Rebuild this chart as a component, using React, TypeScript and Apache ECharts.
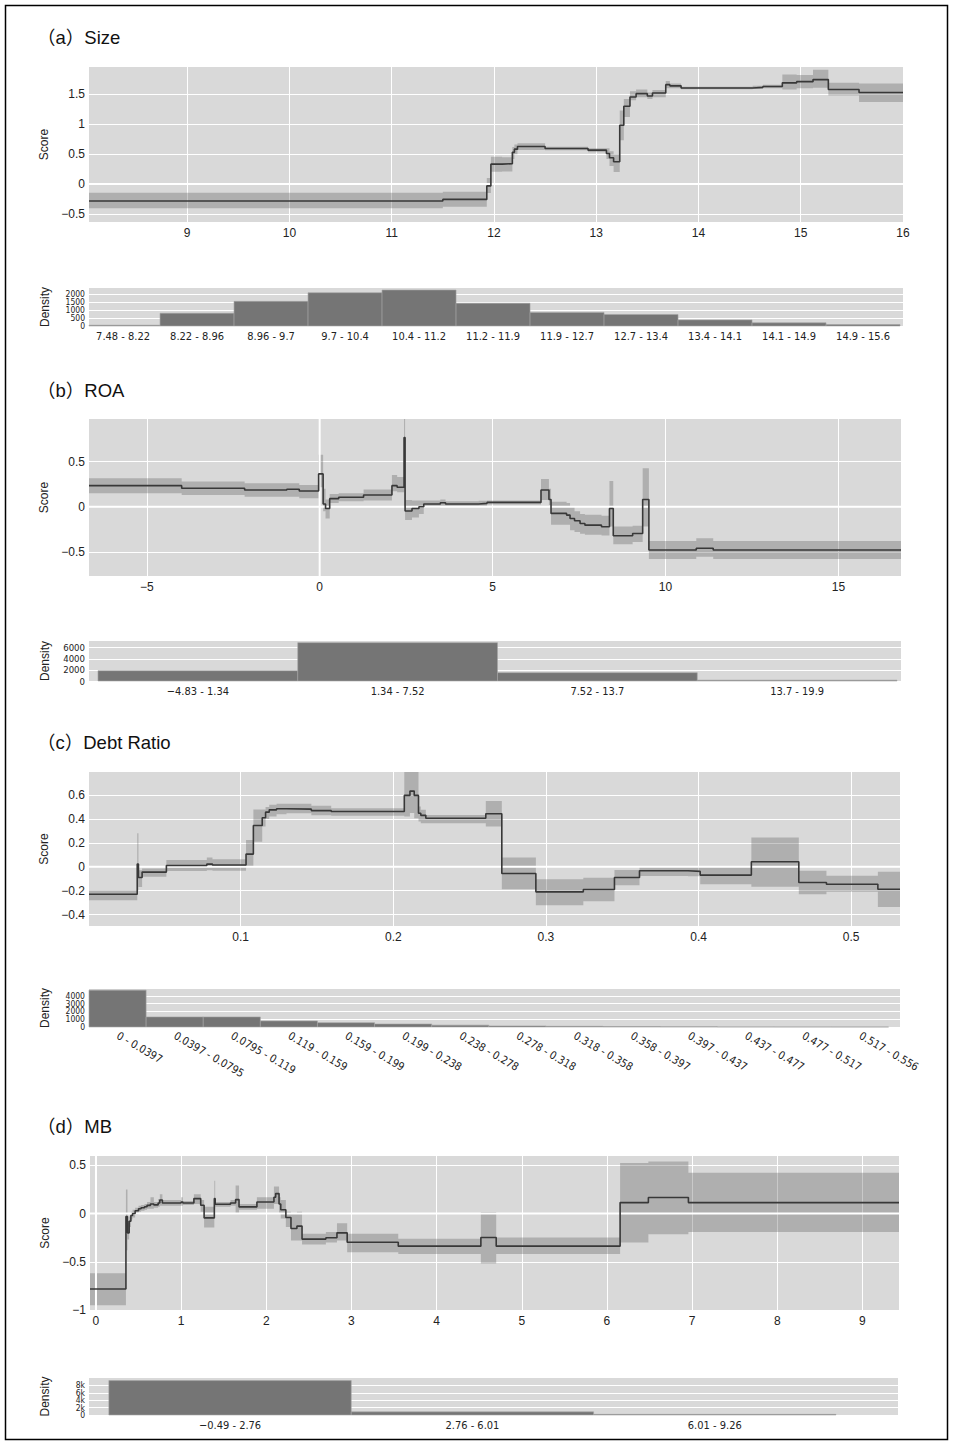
import React, { useEffect, useRef } from "react";
import * as echarts from "echarts";

// ---------- (a) Size ----------
const sizeX = [8.04, 11.5, 11.93, 11.97, 12.08, 12.18, 12.2, 12.23, 12.5, 12.92, 13.1, 13.13, 13.17, 13.23, 13.27, 13.33, 13.39, 13.5, 13.55, 13.68, 13.72, 13.83, 14.53, 14.63, 14.82, 14.96, 15.12, 15.27, 15.57];
const sizeY = [-0.283, -0.256, -0.03, 0.333, 0.34, 0.53, 0.583, 0.628, 0.595, 0.567, 0.51, 0.44, 0.373, 0.983, 1.3, 1.455, 1.51, 1.47, 1.52, 1.66, 1.64, 1.605, 1.615, 1.63, 1.69, 1.71, 1.745, 1.58, 1.53];
const sizeLo = [-0.405, -0.378, -0.15, 0.205, 0.21, 0.42, 0.5, 0.57, 0.565, 0.53, 0.42, 0.3, 0.2, 0.73, 1.12, 1.4, 1.45, 1.42, 1.45, 1.6, 1.6, 1.585, 1.59, 1.6, 1.58, 1.6, 1.61, 1.48, 1.37];
const sizeHi = [-0.145, -0.128, 0.1, 0.455, 0.45, 0.62, 0.66, 0.68, 0.625, 0.6, 0.6, 0.55, 0.5, 1.23, 1.42, 1.55, 1.58, 1.53, 1.57, 1.72, 1.68, 1.625, 1.64, 1.66, 1.83, 1.82, 1.91, 1.69, 1.68];
const sizeXTicks = [9, 10, 11, 12, 13, 14, 15, 16];
const sizeYTicks = [-0.5, 0, 0.5, 1, 1.5];
const sizeBins = ["7.48 - 8.22", "8.22 - 8.96", "8.96 - 9.7", "9.7 - 10.4", "10.4 - 11.2", "11.2 - 11.9", "11.9 - 12.7", "12.7 - 13.4", "13.4 - 14.1", "14.1 - 14.9", "14.9 - 15.6"];
const sizeCounts = [50, 800, 1540, 2080, 2250, 1420, 850, 720, 380, 200, 90];
const sizeDensTicks = [0, 500, 1000, 1500, 2000];

// ---------- (b) ROA ----------
const roaX = [-6.67, -3.99, -2.17, -0.95, -0.59, -0.03, 0.1, 0.17, 0.29, 0.55, 1.27, 2.09, 2.24, 2.44, 2.47, 2.67, 2.87, 3.01, 3.49, 3.64, 4.6, 4.84, 6.4, 6.63, 6.69, 7.14, 7.24, 7.37, 7.53, 7.67, 8.15, 8.38, 8.49, 9.05, 9.34, 9.52, 10.89, 11.38];
const roaY = [0.233, 0.204, 0.185, 0.193, 0.174, 0.363, 0.03, -0.02, 0.089, 0.104, 0.13, 0.233, 0.215, 0.767, -0.048, -0.02, 0.0, 0.03, 0.044, 0.03, 0.037, 0.048, 0.185, 0.08, -0.074, -0.093, -0.13, -0.155, -0.185, -0.204, -0.222, -0.019, -0.322, -0.296, 0.08, -0.48, -0.46, -0.48];
const roaLo = [0.148, 0.13, 0.11, 0.11, 0.093, 0.215, -0.05, -0.13, 0.04, 0.06, 0.07, 0.17, 0.16, 0.0, -0.148, -0.12, -0.08, -0.01, 0.01, 0.0, 0.01, 0.025, 0.074, 0.02, -0.2, -0.2, -0.26, -0.28, -0.3, -0.31, -0.32, -0.22, -0.415, -0.39, -0.22, -0.58, -0.555, -0.58];
const roaHi = [0.315, 0.278, 0.26, 0.26, 0.24, 0.574, 0.2, 0.08, 0.14, 0.15, 0.19, 0.35, 0.33, 0.98, 0.074, 0.07, 0.07, 0.07, 0.08, 0.06, 0.065, 0.07, 0.307, 0.2, 0.055, 0.04, 0.0, -0.05, -0.08, -0.09, -0.1, 0.285, -0.22, -0.21, 0.426, -0.38, -0.35, -0.38];
const roaXTicks = [-5, 0, 5, 10, 15];
const roaYTicks = [-0.5, 0, 0.5];
const roaBins = ["\u22124.83 - 1.34", "1.34 - 7.52", "7.52 - 13.7", "13.7 - 19.9"];
const roaCounts = [1850, 6900, 1500, 150];
const roaDensTicks = [0, 2000, 4000, 6000];

// ---------- (c) Debt Ratio ----------
const debtX = [0.0006, 0.0322, 0.033, 0.0354, 0.0513, 0.0778, 0.0815, 0.1035, 0.1083, 0.1141, 0.1163, 0.1187, 0.1235, 0.13, 0.1463, 0.1593, 0.2072, 0.2109, 0.2137, 0.2165, 0.218, 0.2213, 0.2606, 0.2711, 0.2934, 0.3245, 0.3449, 0.3613, 0.3931, 0.4011, 0.4346, 0.4657, 0.4838, 0.5175];
const debtY = [-0.23, 0.022, -0.09, -0.045, 0.011, 0.022, 0.014, 0.106, 0.345, 0.41, 0.457, 0.476, 0.485, 0.482, 0.47, 0.462, 0.597, 0.633, 0.597, 0.448, 0.43, 0.406, 0.443, -0.056, -0.21, -0.19, -0.09, -0.034, -0.039, -0.07, 0.042, -0.132, -0.146, -0.188];
const debtLo = [-0.28, -0.2, -0.17, -0.084, -0.036, -0.03, -0.034, 0.0, 0.21, 0.336, 0.4, 0.42, 0.44, 0.448, 0.43, 0.426, 0.42, 0.45, 0.406, 0.378, 0.364, 0.364, 0.336, -0.188, -0.322, -0.289, -0.154, -0.078, -0.08, -0.146, -0.168, -0.23, -0.21, -0.336];
const debtHi = [-0.196, 0.28, -0.03, -0.014, 0.056, 0.078, 0.062, 0.224, 0.48, 0.48, 0.5, 0.518, 0.527, 0.527, 0.51, 0.49, 0.8, 0.8, 0.8, 0.504, 0.476, 0.434, 0.55, 0.078, -0.104, -0.092, -0.028, 0.006, 0.0, 0.0, 0.244, -0.034, -0.076, -0.042];
const debtXTicks = [0.1, 0.2, 0.3, 0.4, 0.5];
const debtYTicks = [-0.4, -0.2, 0, 0.2, 0.4, 0.6];
const debtBins = ["0 - 0.0397", "0.0397 - 0.0795", "0.0795 - 0.119", "0.119 - 0.159", "0.159 - 0.199", "0.199 - 0.238", "0.238 - 0.278", "0.278 - 0.318", "0.318 - 0.358", "0.358 - 0.397", "0.397 - 0.437", "0.437 - 0.477", "0.477 - 0.517", "0.517 - 0.556"];
const debtCounts = [4750, 1300, 1300, 780, 560, 390, 240, 140, 90, 50, 40, 15, 10, 5];
const debtDensTicks = [0, 1000, 2000, 3000, 4000];

// ---------- (d) MB ----------
const mbX = [-0.07, 0.352, 0.37, 0.39, 0.41, 0.43, 0.46, 0.5, 0.53, 0.57, 0.6, 0.64, 0.68, 0.73, 0.75, 0.78, 1.0, 1.02, 1.15, 1.23, 1.27, 1.39, 1.4, 1.58, 1.64, 1.68, 1.89, 2.09, 2.11, 2.15, 2.17, 2.23, 2.29, 2.36, 2.42, 2.7, 2.83, 2.95, 3.55, 4.52, 4.7, 6.155, 6.487, 6.957];
const mbY = [-0.783, -0.03, -0.2, -0.08, -0.02, 0.0, 0.03, 0.05, 0.06, 0.07, 0.085, 0.1, 0.09, 0.11, 0.14, 0.11, 0.12, 0.11, 0.155, 0.086, -0.045, 0.155, 0.097, 0.11, 0.145, 0.069, 0.12, 0.17, 0.207, 0.1, 0.04, -0.04, -0.155, -0.13, -0.265, -0.25, -0.2, -0.297, -0.338, -0.248, -0.338, 0.114, 0.166, 0.114];
const mbLo = [-0.95, -0.38, -0.27, -0.14, -0.06, -0.04, -0.01, 0.02, 0.03, 0.04, 0.05, 0.05, 0.06, 0.07, 0.08, 0.08, 0.08, 0.09, 0.1, 0.02, -0.145, 0.05, 0.07, 0.08, 0.0, 0.04, 0.05, 0.1, 0.1, 0.0, -0.05, -0.14, -0.28, -0.28, -0.32, -0.3, -0.28, -0.4, -0.42, -0.517, -0.42, -0.3, -0.214, -0.19];
const mbHi = [-0.62, 0.25, -0.1, -0.03, 0.02, 0.04, 0.06, 0.08, 0.09, 0.1, 0.12, 0.17, 0.12, 0.15, 0.2, 0.14, 0.17, 0.13, 0.2, 0.14, 0.07, 0.34, 0.12, 0.14, 0.29, 0.1, 0.17, 0.28, 0.28, 0.17, 0.14, 0.02, 0.0, 0.02, -0.21, -0.19, -0.1, -0.21, -0.26, 0.017, -0.248, 0.524, 0.54, 0.424];
const mbXTicks = [0, 1, 2, 3, 4, 5, 6, 7, 8, 9];
const mbYTicks = [-1, -0.5, 0, 0.5];
const mbBins = ["\u22120.49 - 2.76", "2.76 - 6.01", "6.01 - 9.26"];
const mbCounts = [9300, 850, 170];
const mbDensTicks = [0, 2000, 4000, 6000, 8000];

// ---------- styling ----------
const BG = "#d9d9d9";
const BAND = "rgba(90,90,90,0.33)";
const LINE = "#383838";
const BAR = "#757575";
const TXT = "#222";
const FONT = "'Liberation Sans', Arial, 'Noto Sans CJK SC', sans-serif";
const NARROW = "'Liberation Sans Narrow', 'DejaVu Sans Condensed', 'Liberation Sans', sans-serif";

function fmt(v: number): string {
  const s = String(+v.toFixed(4));
  return v < 0 ? "\u2212" + s.slice(1) : s;
}

function steps(xs: number[], ys: number[], end: number) {
  const pts = xs.map((x, i) => [x, ys[i]]);
  pts.push([end, ys[ys.length - 1]]);
  return pts;
}

type Box = { left: number; top: number; width: number; height: number };
type ScoreCfg = {
  xs: number[]; ys: number[]; lo: number[]; hi: number[];
  xMin: number; xMax: number; yMin: number; yMax: number;
  xTicks: number[]; yTicks: number[]; zeroX: boolean; grid: Box;
};
type DensCfg = {
  bins: string[]; counts: number[]; ticks: number[];
  xMin: number; xMax: number; yMax: number; rotate: number; labelSize: number;
  yFmt: (v: number) => string; grid: Box;
};

const scorePanels: ScoreCfg[] = [
  { xs: sizeX, ys: sizeY, lo: sizeLo, hi: sizeHi, xMin: 8.04, xMax: 16, yMin: -0.633, yMax: 1.955, xTicks: sizeXTicks, yTicks: sizeYTicks, zeroX: false, grid: { left: 89, top: 67, width: 814, height: 155 } },
  { xs: roaX, ys: roaY, lo: roaLo, hi: roaHi, xMin: -6.67, xMax: 16.81, yMin: -0.767, yMax: 0.971, xTicks: roaXTicks, yTicks: roaYTicks, zeroX: true, grid: { left: 89, top: 419, width: 812, height: 157 } },
  { xs: debtX, ys: debtY, lo: debtLo, hi: debtHi, xMin: 0.0006, xMax: 0.532, yMin: -0.496, yMax: 0.793, xTicks: debtXTicks, yTicks: debtYTicks, zeroX: false, grid: { left: 89, top: 772, width: 811, height: 154 } },
  { xs: mbX, ys: mbY, lo: mbLo, hi: mbHi, xMin: -0.07, xMax: 9.43, yMin: -1, yMax: 0.597, xTicks: mbXTicks, yTicks: mbYTicks, zeroX: true, grid: { left: 90, top: 1156, width: 809, height: 154 } },
];

const densPanels: DensCfg[] = [
  { bins: sizeBins, counts: sizeCounts, ticks: sizeDensTicks, xMin: 0.04, xMax: 11.04, yMax: 2375, rotate: 0, labelSize: 8.5, yFmt: (v) => String(v), grid: { left: 89, top: 288, width: 814, height: 38 } },
  { bins: roaBins, counts: roaCounts, ticks: roaDensTicks, xMin: -0.045, xMax: 4.02, yMax: 7200, rotate: 0, labelSize: 9.5, yFmt: (v) => String(v), grid: { left: 89, top: 641, width: 812, height: 40 } },
  { bins: debtBins, counts: debtCounts, ticks: debtDensTicks, xMin: 0, xMax: 14.2, yMax: 4900, rotate: -30, labelSize: 8.5, yFmt: (v) => String(v), grid: { left: 89, top: 989, width: 811, height: 38 } },
  { bins: mbBins, counts: mbCounts, ticks: mbDensTicks, xMin: -0.082, xMax: 3.256, yMax: 10000, rotate: 0, labelSize: 8.5, yFmt: (v) => (v === 0 ? "0" : v / 1000 + "k"), grid: { left: 89, top: 1378, width: 809, height: 37 } },
];

const titles = [
  { text: "\uFF08a\uFF09Size", y: 37 },
  { text: "\uFF08b\uFF09ROA", y: 390 },
  { text: "\uFF08c\uFF09Debt Ratio", y: 742 },
  { text: "\uFF08d\uFF09MB", y: 1126 },
];

const clamp = (v: number, a: number, b: number) => Math.min(Math.max(v, a), b);

function buildOption() {
  const grids: any[] = [];
  const xAxes: any[] = [];
  const yAxes: any[] = [];
  const series: any[] = [];
  const labelAll = { interval: 0, hideOverlap: false, showMinLabel: true, showMaxLabel: true };

  scorePanels.forEach((p, k) => {
    const g = grids.length;
    grids.push({ ...p.grid, show: true, backgroundColor: BG, borderWidth: 0, containLabel: false });
    const gx = xAxes.length;
    xAxes.push({
      type: "value", gridIndex: g, min: p.xMin, max: p.xMax,
      axisLine: { show: false },
      axisTick: { show: false, customValues: p.xTicks },
      axisLabel: { customValues: p.xTicks, formatter: fmt, fontSize: 12, color: TXT, fontFamily: FONT, margin: 5, ...labelAll },
      splitLine: { show: true, lineStyle: { color: "#ffffff", width: 1 } },
    });
    const gy = yAxes.length;
    yAxes.push({
      type: "value", gridIndex: g, min: p.yMin, max: p.yMax,
      name: "Score", nameLocation: "middle", nameGap: 38,
      nameTextStyle: { fontSize: 12, color: TXT, fontFamily: FONT },
      axisLine: { show: false },
      axisTick: { show: false, customValues: p.yTicks },
      axisLabel: { customValues: p.yTicks, formatter: fmt, fontSize: 12, color: TXT, fontFamily: FONT, margin: 4, ...labelAll },
      splitLine: { show: true, lineStyle: { color: "#ffffff", width: 1 } },
    });
    const end = p.xMax;
    // zero lines
    series.push({
      type: "line", xAxisIndex: gx, yAxisIndex: gy, silent: true, showSymbol: false, symbol: "none",
      data: [[p.xMin, 0], [p.xMax, 0]], lineStyle: { color: "#ffffff", width: 2 },
    });
    if (p.zeroX) {
      series.push({
        type: "line", xAxisIndex: gx, yAxisIndex: gy, silent: true, showSymbol: false, symbol: "none",
        data: [[0, p.yMin], [0, p.yMax]], lineStyle: { color: "#ffffff", width: 2 },
      });
    }
    // confidence band as one polygon, built from the segment data through the axes
    const segs = p.xs.map((x, i) => [x, i + 1 < p.xs.length ? p.xs[i + 1] : end, p.lo[i], p.hi[i]]);
    series.push({
      type: "custom", xAxisIndex: gx, yAxisIndex: gy, silent: true,
      data: segs, encode: { x: [0, 1], y: [2, 3] },
      renderItem: (params: any, api: any) => {
        if (params.dataIndexInside !== 0) return null;
        const cs = params.coordSys;
        const n = params.dataInsideLength;
        const cl = (pt: number[]) => [clamp(pt[0], cs.x, cs.x + cs.width), clamp(pt[1], cs.y, cs.y + cs.height)];
        const up: number[][] = [];
        const dn: number[][] = [];
        for (let j = 0; j < n; j++) {
          const x0 = api.value(0, j), x1 = api.value(1, j), lo = api.value(2, j), hi = api.value(3, j);
          up.push(cl(api.coord([x0, hi])), cl(api.coord([x1, hi])));
          dn.push(cl(api.coord([x0, lo])), cl(api.coord([x1, lo])));
        }
        const pts = up.concat(dn.reverse());
        return { type: "polygon", shape: { points: pts }, style: { fill: BAND, stroke: "none" } };
      },
    });
    series.push({
      type: "line", xAxisIndex: gx, yAxisIndex: gy, step: "end",
      data: steps(p.xs, p.ys, end), showSymbol: false, symbol: "none", silent: true,
      lineStyle: { color: LINE, width: 1.6 },
    });

    // ---- density panel ----
    const d = densPanels[k];
    const gd = grids.length;
    grids.push({ ...d.grid, show: true, backgroundColor: BG, borderWidth: 0, containLabel: false });
    const centers = d.bins.map((_, i) => i + 0.5);
    const dx = xAxes.length;
    xAxes.push({
      type: "value", gridIndex: gd, min: d.xMin, max: d.xMax,
      axisLine: { show: false },
      axisTick: { show: false, customValues: centers },
      axisLabel: {
        customValues: centers, formatter: (v: number) => d.bins[Math.floor(v)] ?? "",
        fontSize: 11, color: TXT, fontFamily: NARROW, margin: d.rotate ? 8 : 5, rotate: d.rotate, ...labelAll,
      },
      splitLine: { show: false },
    });
    // ticks split over two overlaid left axes so that the closely spaced labels all stay visible
    const evenTicks = d.ticks.filter((_, i) => i % 2 === 0);
    const oddTicks = d.ticks.filter((_, i) => i % 2 === 1);
    const dy = yAxes.length;
    const densY = (ticks: number[], withName: boolean) => ({
      type: "value", gridIndex: gd, min: 0, max: d.yMax, position: "left", offset: 0,
      name: withName ? "Density" : "", nameLocation: "middle", nameGap: 38,
      nameTextStyle: { fontSize: 12, color: TXT, fontFamily: FONT },
      axisLine: { show: false },
      axisTick: { show: false, customValues: ticks },
      axisLabel: {
        customValues: ticks, formatter: d.yFmt, fontSize: d.labelSize, lineHeight: d.labelSize < 9 ? 7 : 10,
        color: TXT, fontFamily: NARROW, margin: 4, ...labelAll,
      },
      splitLine: { show: true, lineStyle: { color: "#ffffff", width: 1 } },
    });
    yAxes.push(densY(evenTicks, true));
    if (oddTicks.length) yAxes.push(densY(oddTicks, false));
    series.push({
      type: "custom", xAxisIndex: dx, yAxisIndex: dy, silent: true,
      data: d.counts.map((c, i) => [i, i + 1, c]),
      encode: { x: [0, 1], y: 2 },
      renderItem: (params: any, api: any) => {
        const cs = params.coordSys;
        const a = api.coord([api.value(0), 0]);
        const b = api.coord([api.value(1), api.value(2)]);
        const x0 = Math.max(a[0], cs.x);
        const x1 = Math.min(b[0], cs.x + cs.width);
        return {
          type: "rect",
          shape: { x: x0, y: b[1], width: x1 - x0, height: a[1] - b[1] },
          style: { fill: BAR, stroke: "#a5a5a5", lineWidth: 0.6 },
        };
      },
    });
  });

  const graphic: any[] = [
    { type: "rect", shape: { x: 5.5, y: 5.5, width: 942, height: 1434 }, style: { fill: "none", stroke: "#000", lineWidth: 1.5 }, silent: true },
    ...titles.map((t) => ({
      type: "text", x: 37, y: t.y, silent: true,
      style: { text: t.text, fontSize: 18.5, fill: "#111", fontFamily: FONT, verticalAlign: "middle", align: "left" },
    })),
  ];

  return { animation: false, backgroundColor: "#ffffff", grid: grids, xAxis: xAxes, yAxis: yAxes, series, graphic };
}

export default function App() {
  const ref = useRef<HTMLDivElement>(null);
  useEffect(() => {
    if (!ref.current) return;
    const chart = echarts.init(ref.current, undefined, { renderer: "svg" });
    chart.setOption(buildOption() as any);
    return () => chart.dispose();
  }, []);
  return <div ref={ref} style={{ position: "absolute", left: 0, top: 0, width: 953, height: 1445 }} />;
}
